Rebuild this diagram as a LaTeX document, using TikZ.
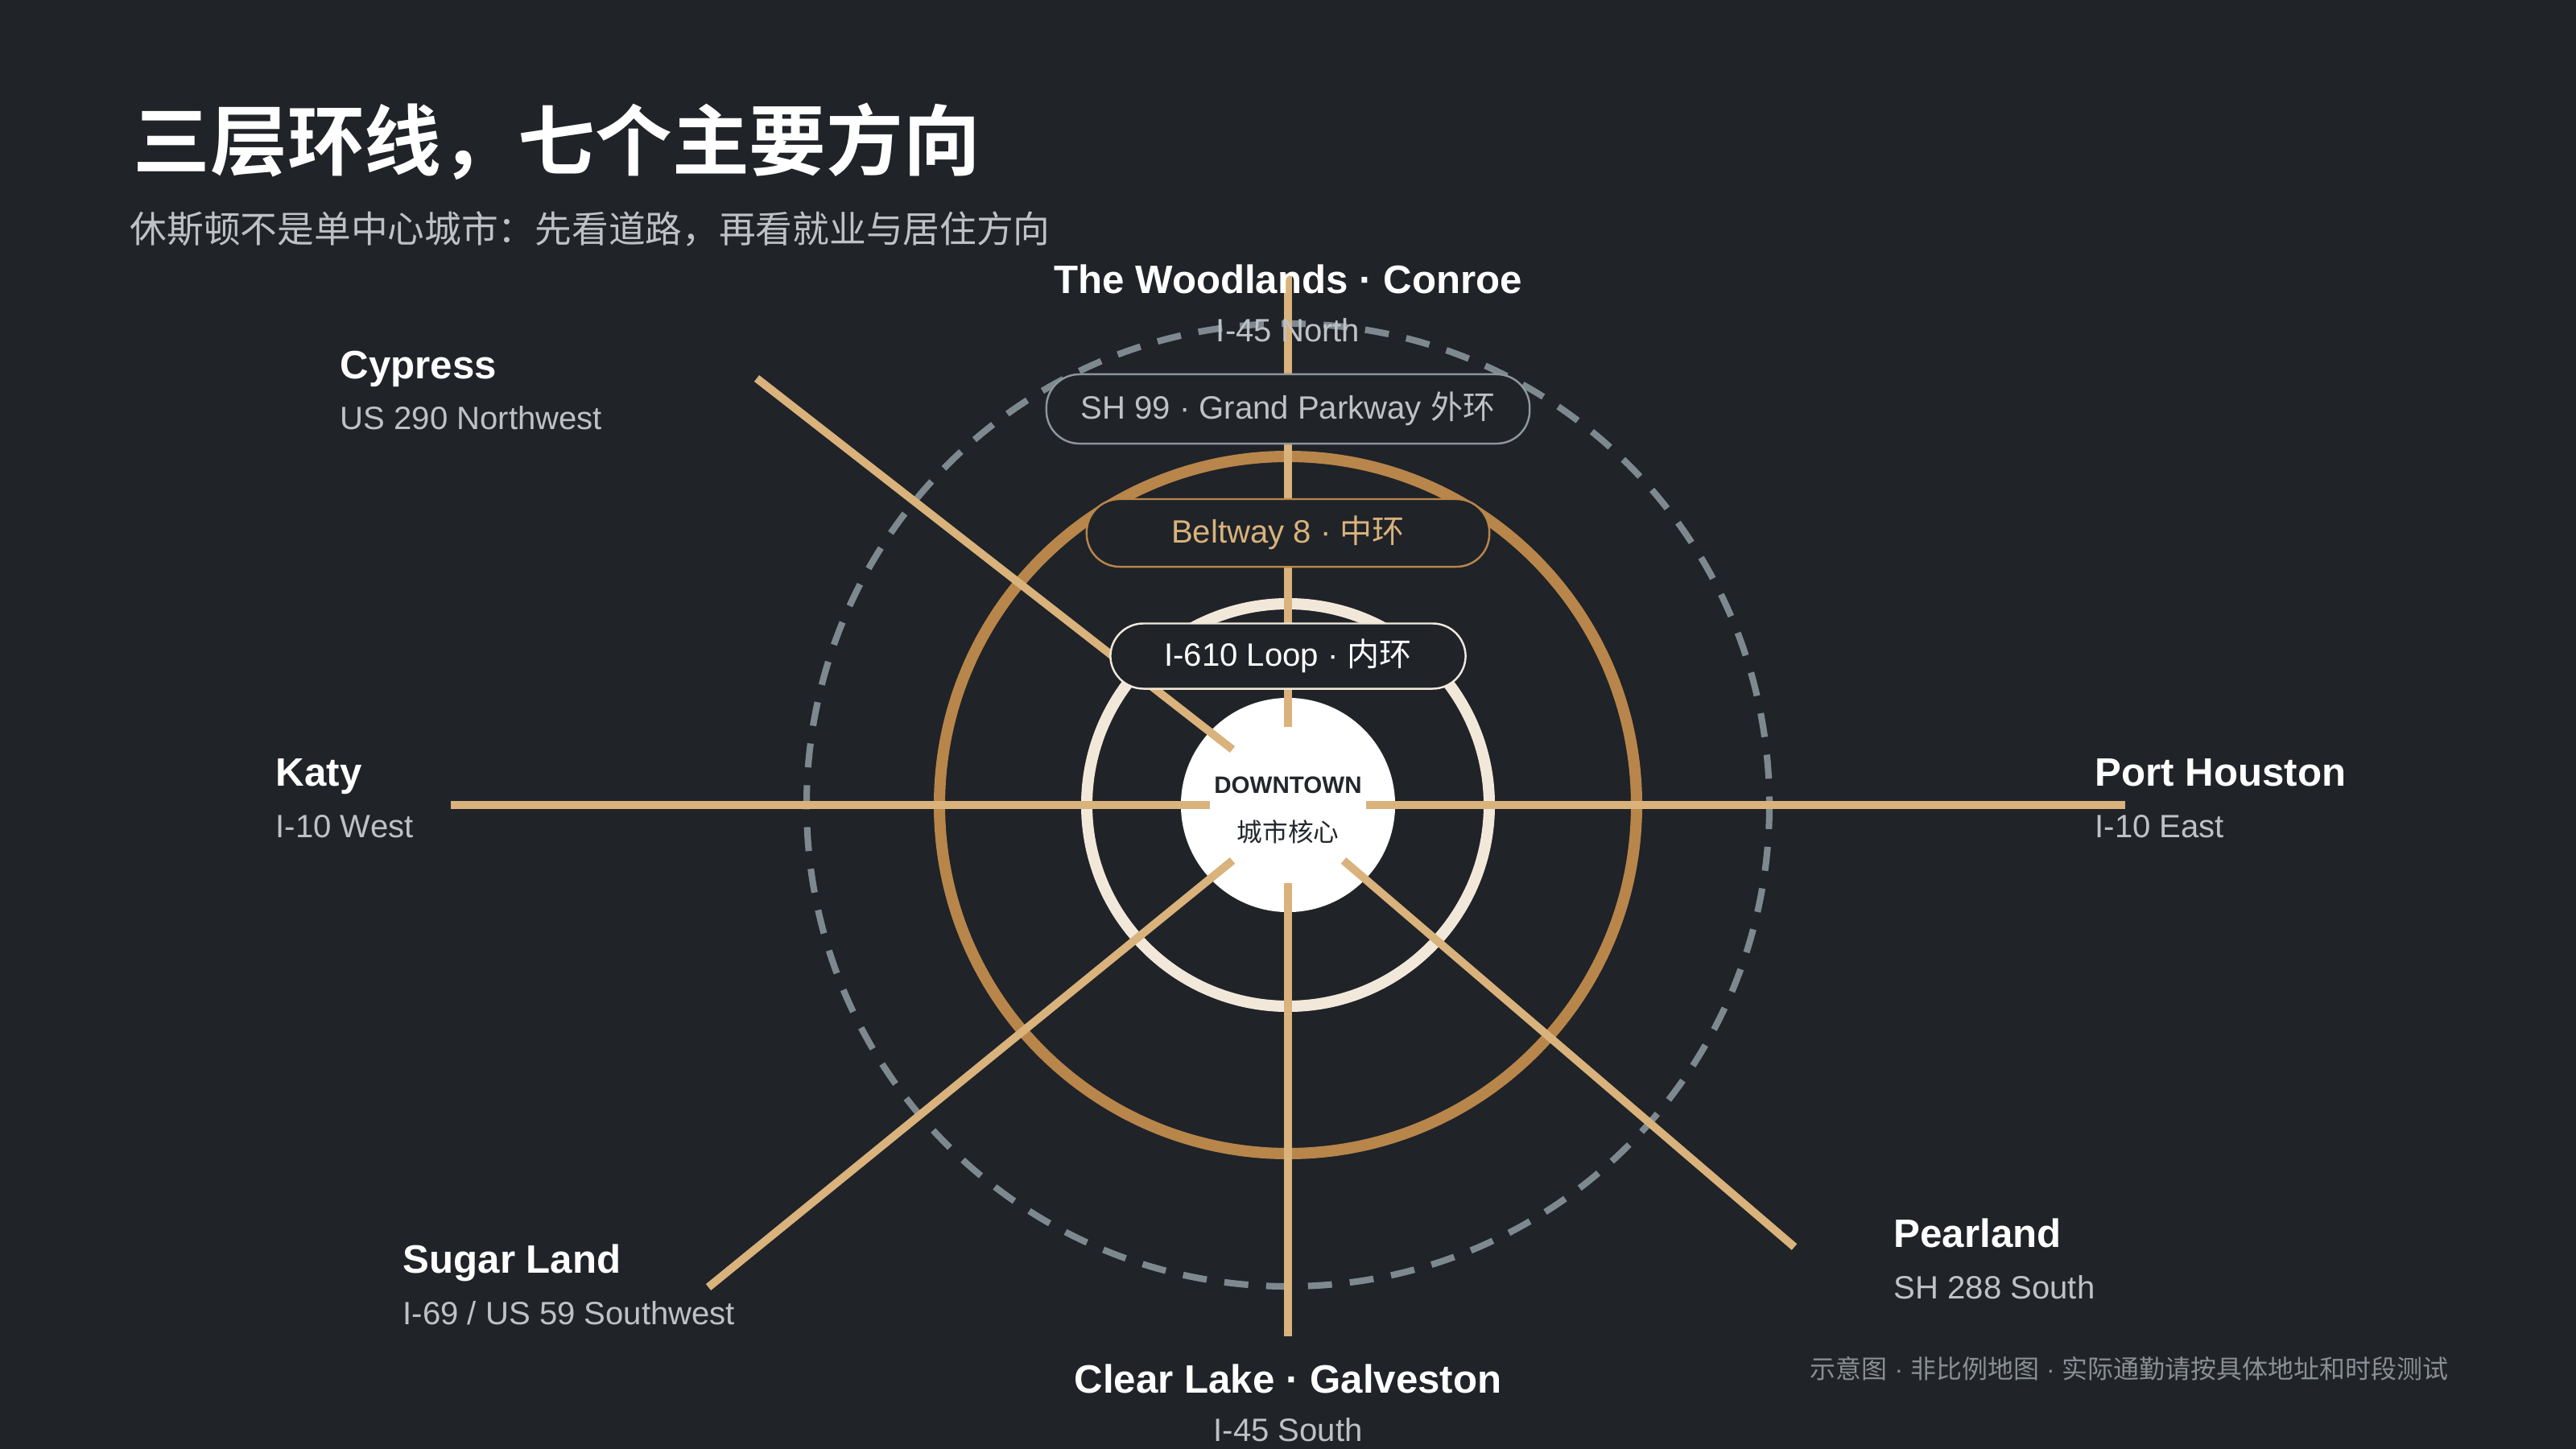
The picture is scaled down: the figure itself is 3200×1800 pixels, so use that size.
\documentclass[tikz,border=0pt]{standalone}
\usepackage{fontspec}
\setmainfont{Liberation Sans}
\newfontfamily\cjk{Noto Sans CJK SC}
\newfontfamily\cjkbold{Noto Sans CJK SC Bold}
\definecolor{cBg}{HTML}{202328}
\definecolor{cRoad}{HTML}{D9B27C}
\definecolor{cBelt}{HTML}{B8864A}
\definecolor{cLoop}{HTML}{F2E8DA}
\definecolor{cOuter}{HTML}{7D898E}
\definecolor{cPillGray}{HTML}{8C979C}
\definecolor{cSub}{HTML}{BEC2C6}
\definecolor{cFoot}{HTML}{8A8F94}
\definecolor{cInk}{HTML}{23262B}
\tikzstyle{road}=[cRoad, line width=2.85pt]
\tikzstyle{ring}=[line width=4pt]
\tikzstyle{pill}=[draw, fill=cBg, rounded corners=0.41cm, inner sep=0pt, line width=0.7pt, font=\fontsize{11.4}{13}\selectfont]
\tikzstyle{place}=[text=white, inner sep=0pt, font=\bfseries\fontsize{14}{16}\selectfont]
\tikzstyle{route}=[text=cSub, inner sep=0pt, font=\fontsize{11.4}{13}\selectfont]

\begin{document}
\begin{tikzpicture}[x=0.01cm, y=-0.01cm]
        \fill[cBg] (0,0) rectangle (3200,1800);
        \coordinate (c) at (1600,1000);
        % rings
        \draw[cOuter, line width=2.3pt, dash pattern=on 8.5pt off 6.3pt] (c) circle (598);
        \draw[ring, cBelt] (c) circle (433);
        \draw[ring, cLoop] (c) circle (250);
        \node[circle, fill=white, minimum size=2.66cm, inner sep=0pt] (core) at (c) {};
        % roads
        \coordinate (nIn) at (1600,903);   \coordinate (nOut) at (1600,340);
        \coordinate (sIn) at (1600,1097);  \coordinate (sOut) at (1600,1660);
        \coordinate (wIn) at (1503,1000);  \coordinate (wOut) at (560,1000);
        \coordinate (eIn) at (1697,1000);  \coordinate (eOut) at (2640,1000);
        \coordinate (nwIn) at (1531,931);  \coordinate (nwOut) at (940,470);
        \coordinate (swIn) at (1531,1069); \coordinate (swOut) at (880,1599);
        \coordinate (seIn) at (1669,1069); \coordinate (seOut) at (2229,1549);
        \draw[road] (nIn) -- (nOut);
        \draw[road] (sIn) -- (sOut);
        \draw[road] (wIn) -- (wOut);
        \draw[road] (eIn) -- (eOut);
        \draw[road] (nwIn) -- (nwOut);
        \draw[road] (swIn) -- (swOut);
        \draw[road] (seIn) -- (seOut);
        % ring labels
        \node[pill, draw=cPillGray, text=cSub, minimum width=6cm, minimum height=0.86cm] (sh99) at (1600,508) {SH 99 · Grand Parkway {\cjk 外环}};
        \node[pill, draw=cBelt, text=cRoad, minimum width=5cm, minimum height=0.84cm] (bw8) at (1600,662) {Beltway 8 · {\cjk 中环}};
        \node[pill, draw=cLoop, text=white, minimum width=4.41cm, minimum height=0.81cm] (i610) at (1600,815) {I-610 Loop · {\cjk 内环}};
        \node[anchor=base, inner sep=0pt, text=cInk, font=\bfseries\fontsize{8.4}{10}\selectfont] (dt) at (1600,985) {DOWNTOWN};
        \node[anchor=base, inner sep=0pt, text=cInk, font=\cjk\fontsize{9}{10}\selectfont] (dtcn) at (1600,1045) {城市核心};
        % directions
        \node[place, anchor=base] (woodlands) at (1600,364) {The Woodlands · Conroe};
        \node[route, anchor=base] (i45n) at (1600,424) {I-45 North};
        \node[place, anchor=base west] (cypress) at (422,470) {Cypress};
        \node[route, anchor=base west] (us290) at (422,533) {US 290 Northwest};
        \node[place, anchor=base west] (katy) at (342,976) {Katy};
        \node[route, anchor=base west] (i10w) at (342,1040) {I-10 West};
        \node[place, anchor=base west] (port) at (2602,976) {Port Houston};
        \node[route, anchor=base west] (i10e) at (2602,1040) {I-10 East};
        \node[place, anchor=base west] (sugar) at (500,1581) {Sugar Land};
        \node[route, anchor=base west] (i69) at (500,1645) {I-69 / US 59 Southwest};
        \node[place, anchor=base west] (pearland) at (2352,1549) {Pearland};
        \node[route, anchor=base west] (sh288) at (2352,1613) {SH 288 South};
        \node[place, anchor=base] (clear) at (1600,1730) {Clear Lake · Galveston};
        \node[route, anchor=base] (i45s) at (1600,1790) {I-45 South};
        % titles
        \node[anchor=base west, inner sep=0pt, text=white, font=\cjkbold\fontsize{27.2}{30}\selectfont] (title) at (165,211) {三层环线，七个主要方向};
        \node[anchor=base west, inner sep=0pt, text=cSub, font=\cjk\fontsize{13}{15}\selectfont] (subtitle) at (161,301) {休斯顿不是单中心城市：先看道路，再看就业与居住方向};
        \node[anchor=base west, inner sep=0pt, text=cFoot, font=\fontsize{9.1}{11}\selectfont] (note) at (2248,1712) {{\cjk 示意图} · {\cjk 非比例地图} · {\cjk 实际通勤请按具体地址和时段测试}};
    \end{tikzpicture}
\end{document}
